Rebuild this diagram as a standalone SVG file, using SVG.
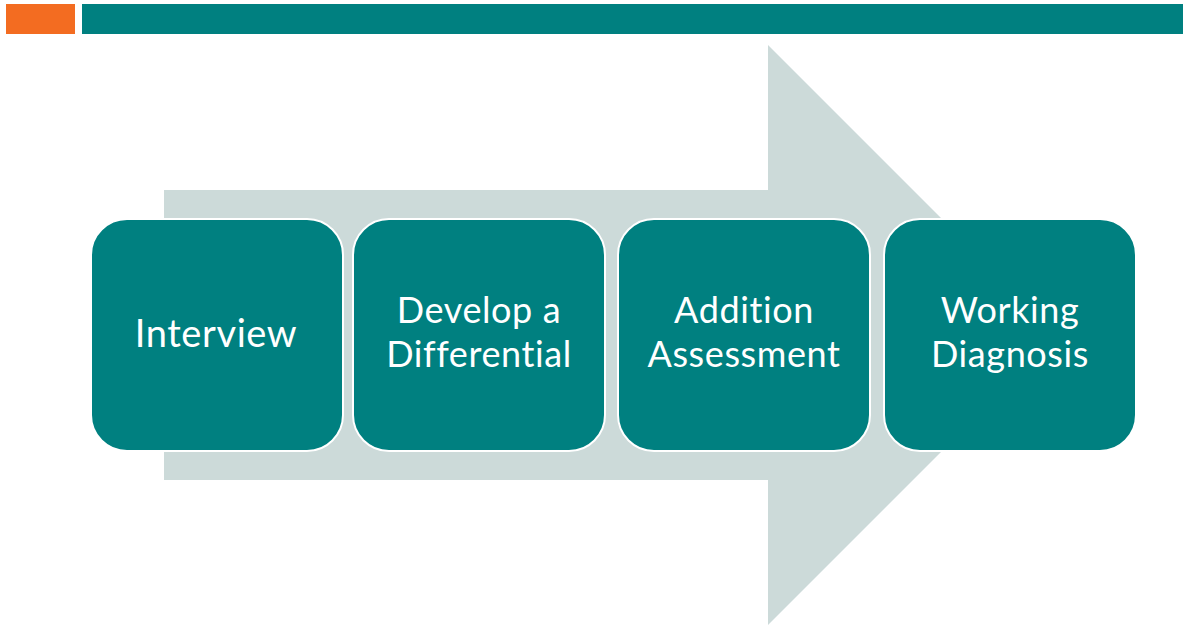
<svg xmlns="http://www.w3.org/2000/svg" width="1183" height="625" viewBox="0 0 1183 625">
<style>
.box{fill:#008080;stroke:#ffffff;stroke-width:2}
.lbl{font-family:Lato,"Open Sans","Liberation Sans",sans-serif;fill:#ffffff;text-anchor:middle;font-variant-ligatures:none;letter-spacing:0.6px}
</style>
<rect width="1183" height="625" fill="#ffffff"/>
<rect x="6" y="4" width="69" height="30" fill="#F36C21"/>
<rect x="82" y="4" width="1101" height="30" fill="#008080"/>
<g id="connectors">
<polygon points="164,190 768,190 768,45 1058,335 768,625 768,480 164,480" fill="#CCDAD9"/>
</g>
<g id="n1"><rect class="box" x="91" y="219" width="252" height="232" rx="36"/><text class="lbl" x="216" y="347" font-size="38">Interview</text></g>
<g id="n2"><rect class="box" x="353" y="219" width="252" height="232" rx="36"/><text class="lbl" x="479" y="323" font-size="36">Develop a</text><text class="lbl" x="479" y="367" font-size="36">Differential</text></g>
<g id="n3"><rect class="box" x="618" y="219" width="252" height="232" rx="36"/><text class="lbl" x="744" y="323" font-size="36">Addition</text><text class="lbl" x="744" y="367" font-size="36">Assessment</text></g>
<g id="n4"><rect class="box" x="884" y="219" width="252" height="232" rx="36"/><text class="lbl" x="1010" y="323" font-size="36">Working</text><text class="lbl" x="1010" y="367" font-size="36">Diagnosis</text></g>
</svg>
